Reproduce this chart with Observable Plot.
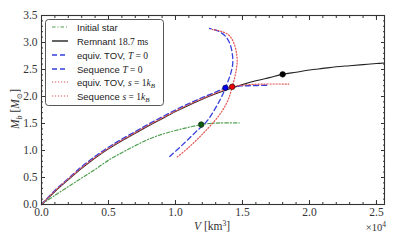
<!DOCTYPE html>
<html>
<head>
<meta charset="utf-8">
<script src="https://cdn.jsdelivr.net/npm/d3@7"></script>
<script src="https://cdn.jsdelivr.net/npm/@observablehq/plot@0.6"></script>
<style>
  html, body { margin: 0; padding: 0; background: #fff; }
  #chart svg { display: block; }
</style>
</head>
<body>
<div id="chart"></div>
<script>
// ---- Data (V in km^3, M_b in solar masses) ----
const remnantV = [0,1000,2000,3000,4000,5000,6000,7000,8000,9000,10000,11000,12000,13000,14000,15000,16000,17000,18000,19000,20000,21000,22000,23000,24000,25000,25600];
const remnantM = [0,0.24,0.46,0.67,0.86,1.03,1.18,1.32,1.46,1.59,1.72,1.84,1.95,2.05,2.14,2.22,2.29,2.35,2.41,2.45,2.49,2.52,2.55,2.57,2.59,2.61,2.62];

const initialV = [0,1000,2000,3000,4000,5000,6000,7000,8000,9000,10000,11000,11920,12500,13300,14750];
const initialM = [0,0.17,0.33,0.49,0.65,0.82,0.96,1.09,1.21,1.30,1.37,1.43,1.48,1.50,1.51,1.51];

const tovT0V = [0,1000,2000,3000,4000,5000,6000,7000,8000,9000,10000,11000,12000,13000,13730,14500,15500,16950];
const tovT0M = [0,0.26,0.48,0.70,0.89,1.06,1.21,1.35,1.49,1.62,1.75,1.87,1.98,2.08,2.16,2.19,2.20,2.21];

const seqT0V = [9570,10500,11500,12300,12900,13350,13600,13730,13950,14150,14270,14260,14100,13750,13200,12540];
const seqT0M = [0.89,1.10,1.34,1.53,1.75,1.95,2.08,2.16,2.30,2.45,2.60,2.75,2.95,3.11,3.21,3.26];

const tovS1V = [0,1000,2000,3000,4000,5000,6000,7000,8000,9000,10000,11000,12000,13000,14000,14230,15000,16500,18450];
const tovS1M = [0,0.25,0.47,0.68,0.87,1.04,1.19,1.33,1.47,1.60,1.73,1.85,1.96,2.06,2.16,2.18,2.21,2.23,2.23];

const seqS1V = [10130,11000,12000,12860,13400,13800,14050,14230,14400,14530,14600,14580,14400,14050,13500,12740];
const seqS1M = [0.88,1.06,1.30,1.53,1.70,1.87,2.02,2.18,2.33,2.49,2.62,2.76,2.96,3.12,3.20,3.24];

const markerV = [11920, 18000, 13730, 14230];
const markerM = [1.48, 2.41, 2.16, 2.18];
const markerFill = ["#0b5e0b", "#000000", "#0000ee", "#ee0000"];

const xMajorTicks = [0, 5000, 10000, 15000, 20000, 25000];
const xMinorTicks = d3.range(0, 25601, 1000);
const yMajorTicks = [0, 0.5, 1.0, 1.5, 2.0, 2.5, 3.0, 3.5];
const yMinorTicks = d3.range(0, 36).map(i => i / 10);

// ---- Styles ----
const cGreen = "#4f9f4f", cBlack = "#222222", cBlue = "#3640dc", cRed = "#e25555";
const serif = "'Liberation Serif', 'DejaVu Serif', serif";
const sans = "'Liberation Sans', Arial, sans-serif";
const axisCol = "#333";

const toRows = (V, M) => V.map((v, i) => ({V: v, M: M[i]}));
const initial = toRows(initialV, initialM);
const remnant = toRows(remnantV, remnantM);
const tovT0 = toRows(tovT0V, tovT0M);
const seqT0 = toRows(seqT0V, seqT0M);
const tovS1 = toRows(tovS1V, tovS1M);
const seqS1 = toRows(seqS1V, seqS1M);
const markers = markerV.map((v, i) => ({V: v, M: markerM[i], c: markerFill[i]}));

const tickAxes = [];
for (const anchor of ["bottom", "top"]) {
  tickAxes.push(Plot.axisX(xMajorTicks, {anchor, tickSize: -4, fill: "none", label: null, stroke: axisCol}));
  tickAxes.push(Plot.axisX(xMinorTicks, {anchor, tickSize: -2, fill: "none", label: null, stroke: axisCol}));
}
for (const anchor of ["left", "right"]) {
  tickAxes.push(Plot.axisY(yMajorTicks, {anchor, tickSize: -4, fill: "none", label: null, stroke: axisCol}));
  tickAxes.push(Plot.axisY(yMinorTicks, {anchor, tickSize: -2, fill: "none", label: null, stroke: axisCol}));
}

const chart = Plot.plot({
  width: 395,
  height: 244,
  marginLeft: 41,
  marginRight: 11,
  marginTop: 15,
  marginBottom: 40,
  x: {domain: [0, 25600], axis: null},
  y: {domain: [0, 3.5], axis: null},
  style: {background: "#fff"},
  marks: [
    Plot.line(initial, {x: "V", y: "M", stroke: cGreen, strokeWidth: 1.2, strokeDasharray: "3.5,2,1,2", curve: "catmull-rom"}),
    Plot.line(remnant, {x: "V", y: "M", stroke: cBlack, strokeWidth: 1.1, curve: "catmull-rom"}),
    Plot.line(tovT0, {x: "V", y: "M", stroke: cBlue, strokeWidth: 1.4, strokeDasharray: "5,3", curve: "catmull-rom"}),
    Plot.line(seqT0, {x: "V", y: "M", stroke: cBlue, strokeWidth: 1.3, strokeDasharray: "5,3", curve: "catmull-rom"}),
    Plot.line(tovS1, {x: "V", y: "M", stroke: cRed, strokeWidth: 1.2, strokeDasharray: "1.2,1.8", curve: "catmull-rom"}),
    Plot.line(seqS1, {x: "V", y: "M", stroke: cRed, strokeWidth: 1.2, strokeDasharray: "1.2,1.8", curve: "catmull-rom"}),
    Plot.dot(markers, {x: "V", y: "M", fill: "c", stroke: "#111", strokeWidth: 0.6, r: 2.8}),
    Plot.frame({stroke: axisCol, strokeWidth: 1.1}),
    ...tickAxes,
    Plot.axisX(xMajorTicks, {anchor: "bottom", tickSize: 0, tickPadding: 3, label: null,
      tickFormat: d => (d / 1e4).toFixed(1), fontFamily: serif, fontSize: 11.5, fill: "#333"}),
    Plot.axisY(yMajorTicks, {anchor: "left", tickSize: 0, tickPadding: 4, label: null,
      tickFormat: d => d.toFixed(1), fontFamily: serif, fontSize: 11.5, fill: "#333"})
  ]
});
document.getElementById("chart").appendChild(chart);

// ---- Text labels and legend ----
const svg = d3.select(chart);

function rich(g, parts, attrs) {
  const t = g.append("text");
  for (const [k, v] of Object.entries(attrs)) t.attr(k, v);
  for (const p of parts) {
    const s = t.append("tspan").text(p.t)
      .attr("font-family", p.f || serif)
      .attr("font-style", p.i ? "italic" : "normal");
    if (p.fs) s.attr("font-size", p.fs);
    if (p.dy) s.attr("dy", p.dy);
  }
  return t;
}

// x-axis label
rich(svg, [
  {t: "V", i: true}, {t: " [km"}, {t: "3", fs: 7.5, dy: -4}, {t: "]", dy: 4}
], {x: 212, y: 230, "text-anchor": "middle", "font-size": 11.5, fill: "#333"});

// x offset
rich(svg, [
  {t: "×10"}, {t: "4", fs: 7.5, dy: -4}
], {x: 386, y: 231, "text-anchor": "end", "font-size": 10.5, fill: "#333"});

// y-axis label
rich(svg, [
  {t: "M", i: true}, {t: "b", i: true, fs: 8, dy: 2.5}, {t: " [", dy: -2.5}, {t: "M", i: true},
  {t: "⊙", fs: 7.5, dy: 2.5}, {t: "]", dy: -2.5}
], {transform: "translate(19,109) rotate(-90)", "text-anchor": "middle", "font-size": 11.5, fill: "#333"});

// Legend
const legendNames = [
  [{t: "Initial star", f: sans}],
  [{t: "Remnant ", f: sans}, {t: "18.7 ms"}],
  [{t: "equiv. TOV, ", f: sans}, {t: "T", i: true}, {t: " = 0"}],
  [{t: "Sequence ", f: sans}, {t: "T", i: true}, {t: " = 0"}],
  [{t: "equiv. TOV, ", f: sans}, {t: "s", i: true}, {t: " = 1"}, {t: "k", i: true}, {t: "B", i: true, fs: 7, dy: 2}],
  [{t: "Sequence ", f: sans}, {t: "s", i: true}, {t: " = 1"}, {t: "k", i: true}, {t: "B", i: true, fs: 7, dy: 2}]
];
const legendStyles = [
  {stroke: cGreen, dash: "3.5,2,1,2", w: 1.2},
  {stroke: cBlack, dash: null, w: 1.4},
  {stroke: cBlue, dash: "5,3", w: 1.4},
  {stroke: cBlue, dash: "5,3", w: 1.4},
  {stroke: cRed, dash: "1.2,1.8", w: 1.2},
  {stroke: cRed, dash: "1.2,1.8", w: 1.2}
];
const legendRowY = [27, 41, 55, 69, 82, 96];

const lg = svg.append("g");
lg.append("rect").attr("x", 45.5).attr("y", 19.5).attr("width", 118).attr("height", 86)
  .attr("rx", 3).attr("fill", "#fff").attr("stroke", "#444").attr("stroke-width", 0.9);
legendNames.forEach((parts, i) => {
  const st = legendStyles[i];
  const y = legendRowY[i];
  const ln = lg.append("line").attr("x1", 52).attr("x2", 68).attr("y1", y).attr("y2", y)
    .attr("stroke", st.stroke).attr("stroke-width", st.w);
  if (st.dash) ln.attr("stroke-dasharray", st.dash);
  rich(lg, parts, {x: 77, y: y + 3.5, "font-size": 9.5, fill: "#222", "text-anchor": "start"});
});
</script>
</body>
</html>
